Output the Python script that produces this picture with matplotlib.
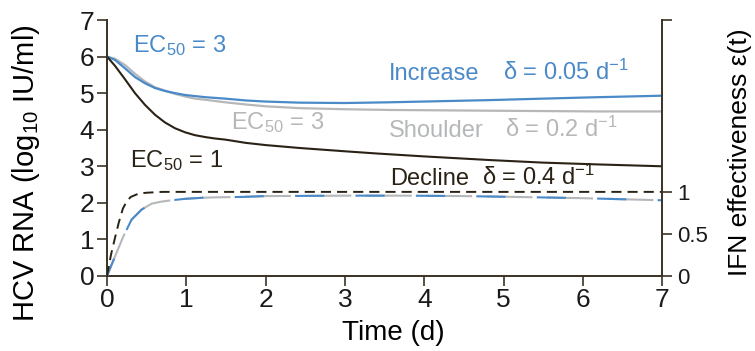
import numpy as np
import matplotlib
matplotlib.use("Agg")
import matplotlib.pyplot as plt

plt.rcParams['font.family'] = ['Liberation Sans', 'DejaVu Sans']
plt.rcParams['mathtext.fontset'] = 'custom'
plt.rcParams['mathtext.rm'] = 'Liberation Sans'
plt.rcParams['mathtext.it'] = 'Liberation Sans:italic'
plt.rcParams['mathtext.default'] = 'regular'

# HCV RNA (log10 IU/ml) curves
t_decline = [0, 0.1, 0.227, 0.353, 0.479, 0.605, 0.73, 0.858, 0.984, 1.11, 1.236, 1.36, 1.49,
             1.75, 2.0, 2.43, 3.0, 3.4, 4.0, 4.83, 5.5, 6.2, 7.0]
rna_decline = [6.0, 5.75, 5.38, 5.0, 4.68, 4.41, 4.2, 4.04, 3.93, 3.85, 3.80, 3.76, 3.73,
               3.64, 3.58, 3.50, 3.41, 3.35, 3.27, 3.17, 3.10, 3.05, 3.0]

t_ec3 = [0, 0.1, 0.227, 0.353, 0.479, 0.605, 0.73, 0.858, 0.984, 1.11, 1.236, 1.49,
         1.75, 2.0, 2.43, 3.0, 3.57, 4.2, 4.83, 5.5, 6.2, 7.0]
rna_increase = [6.0, 5.91, 5.68, 5.44, 5.27, 5.14, 5.06, 5.0, 4.95, 4.92, 4.89, 4.85,
                4.80, 4.77, 4.74, 4.73, 4.75, 4.78, 4.81, 4.85, 4.89, 4.93]
rna_shoulder = [6.0, 5.94, 5.77, 5.53, 5.32, 5.16, 5.07, 4.98, 4.91, 4.85, 4.82, 4.75,
                4.69, 4.64, 4.59, 4.56, 4.54, 4.53, 4.52, 4.51, 4.50, 4.50]

# IFN effectiveness eps(t)
t_eps1 = [0, 0.05, 0.1, 0.15, 0.2, 0.25, 0.3, 0.4, 0.5, 0.7, 1.0, 2.0, 7.0]
eps_ec1 = [0, 0.25, 0.45, 0.64, 0.8, 0.89, 0.94, 0.98, 0.99, 1.0, 1.0, 1.0, 1.0]
t_eps3 = [0, 0.1, 0.206, 0.31, 0.437, 0.563, 0.69, 0.86, 0.98, 1.2, 1.38, 1.7, 2.0,
          3.0, 3.8, 4.5, 5.15, 6.0, 7.0]
eps_ec3 = [0, 0.23, 0.47, 0.67, 0.79, 0.86, 0.885, 0.905, 0.917, 0.93, 0.935, 0.94, 0.95,
           0.955, 0.955, 0.95, 0.94, 0.925, 0.90]

blue = '#4a8ac8'
grey = '#b5b7b9'
dark = '#2b2216'
spine_c = '#3b3226'

fig = plt.figure(figsize=(7.55, 3.51), dpi=100)
ax = fig.add_axes([0.1417, 0.2137, 0.877 - 0.1417, 0.943 - 0.2137])
ax2 = ax.twinx()

ax.plot(t_ec3, rna_shoulder, color=grey, lw=1.6)
ax.plot(t_ec3, rna_increase, color=blue, lw=1.6)
ax.plot(t_decline, rna_decline, color=dark, lw=1.5)

ax2.plot(t_eps3, eps_ec3, color=grey, lw=1.5, linestyle=(0, (22, 7)))
ax2.plot(t_eps3, eps_ec3, color=blue, lw=1.5, linestyle=(5, (14, 15)))
ax2.plot(t_eps1, eps_ec1, color=dark, lw=1.4, linestyle=(0, (5.2, 3.1)))

ax.set_xlim(0, 7)
ax.set_ylim(0, 7)
ax2.set_ylim(0, 7 / 2.3)
ax.set_xticks(range(8))
ax.set_yticks(range(8))
ax2.set_yticks([0, 0.5, 1, 7 / 2.3])
ax2.set_yticklabels(['0', '0.5', '1', ''])

for a in (ax, ax2):
    a.spines['top'].set_visible(False)
    for s in ('left', 'right', 'bottom'):
        a.spines[s].set_color(spine_c)
        a.spines[s].set_linewidth(1.4)
    a.tick_params(colors=spine_c, width=1.2, length=7, direction='out', labelcolor='#1a1a1a')
ax.spines['right'].set_visible(False)
ax2.spines['left'].set_visible(False)
ax2.spines['bottom'].set_visible(False)
ax.tick_params(labelsize=19, pad=2)
ax2.tick_params(labelsize=16, pad=4)

ax.set_xlabel('Time (d)', fontsize=20)
ax.xaxis.set_label_coords(0.515, -0.17)
ax.set_ylabel('HCV RNA (log$_{10}$ IU/ml)', fontsize=21)
ax.yaxis.set_label_coords(-0.117, 0.40)
ax2.set_ylabel('IFN effectiveness ε(t)', fontsize=19)
ax2.yaxis.set_label_coords(1.119, 0.484)

fs = 17
ax.text(0.33, 6.13, 'EC$_{50}$ = 3', color=blue, fontsize=fs)
ax.text(1.57, 4.02, 'EC$_{50}$ = 3', color=grey, fontsize=fs)
ax.text(0.29, 2.99, 'EC$_{50}$ = 1', color=dark, fontsize=fs)
ax.text(3.56, 5.36, 'Increase', color=blue, fontsize=fs)
ax.text(4.99, 5.36, 'δ = 0.05 d$^{-1}$', color=blue, fontsize=fs)
ax.text(3.56, 3.80, 'Shoulder', color=grey, fontsize=fs)
ax.text(5.02, 3.80, 'δ = 0.2 d$^{-1}$', color=grey, fontsize=fs)
ax.text(3.57, 2.49, 'Decline', color=dark, fontsize=fs)
ax.text(4.73, 2.49, 'δ = 0.4 d$^{-1}$', color=dark, fontsize=fs)

fig.savefig('out.png', dpi=100)
